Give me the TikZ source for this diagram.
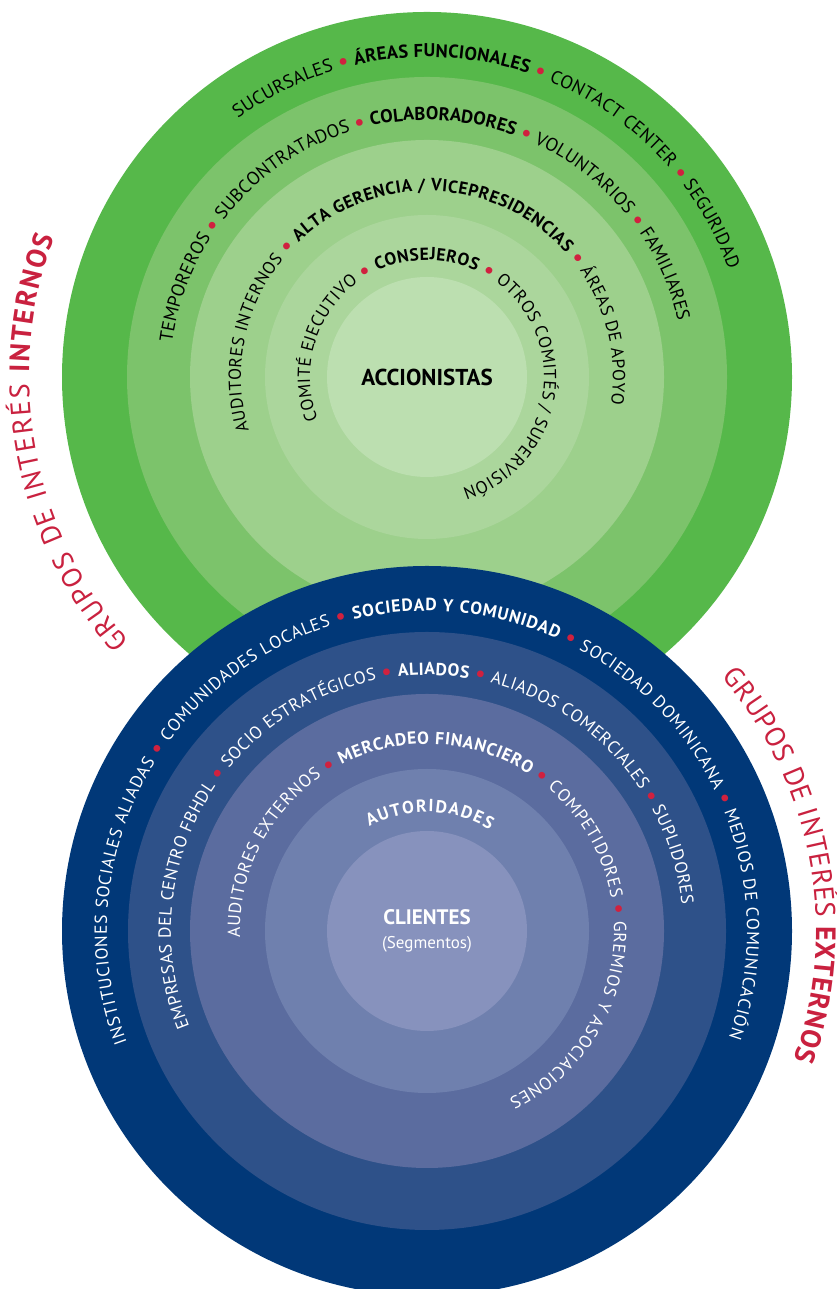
\documentclass[tikz,border=0pt]{standalone}
\usepackage{fontspec}
\setmainfont{PT Sans}
\usepackage{xcolor}
\usetikzlibrary{decorations.text}

\definecolor{verdeA}{HTML}{56B84A}
\definecolor{verdeB}{HTML}{7CC36B}
\definecolor{verdeC}{HTML}{9DD08C}
\definecolor{verdeD}{HTML}{ABD69C}
\definecolor{verdeE}{HTML}{BCDFB0}
\definecolor{azulA}{HTML}{013878}
\definecolor{azulB}{HTML}{2E5189}
\definecolor{azulC}{HTML}{5B6C9F}
\definecolor{azulD}{HTML}{6F80AE}
\definecolor{azulE}{HTML}{8792BD}
\definecolor{rojoPunto}{HTML}{D0213F}
\definecolor{rojoTitulo}{HTML}{C9213F}
\newcommand{\punto}{\textcolor{rojoPunto}{\raisebox{-1.6pt}{\fontsize{24}{24}\selectfont•}}}

\begin{document}
\begin{tikzpicture}[x=1pt, y=1pt,
    curvtxt/.style={decorate, decoration={text along path, text align=fit to path, text color=#1}}]
	\useasboundingbox (0,0) rectangle (837,1289);
	\clip (0,0) rectangle (837,1289);
	\fontsize{18.5}{22}\selectfont
	\coordinate (G) at (427,912);
	\coordinate (B) at (427,358);
	% grupos internos
	\fill[verdeA] (G) circle[radius=365];
	\fill[verdeB] (G) circle[radius=300];
	\fill[verdeC] (G) circle[radius=237];
	\fill[verdeD] (G) circle[radius=162];
	\fill[verdeE] (G) circle[radius=100];
	% grupos externos
	\fill[azulA] (B) circle[radius=365];
	\fill[azulB] (B) circle[radius=299];
	\fill[azulC] (B) circle[radius=237];
	\fill[azulD] (B) circle[radius=162];
	\fill[azulE] (B) circle[radius=100];

	\path[curvtxt=black, decoration={text={SUCURSALES {\punto} |\bfseries|ÁREAS FUNCIONALES|\mdseries| {\punto} CONTACT CENTER {\punto} SEGURIDAD}}]
		(G) ++(126.2:320) arc[start angle=126.2, end angle=19.6, radius=320];
	\path[curvtxt=black, decoration={text={TEMPOREROS {\punto} SUBCONTRATADOS {\punto} |\bfseries|COLABORADORES|\mdseries| {\punto} VOLUNTARIOS {\punto} FAMILIARES}}]
		(G) ++(172.4:257) arc[start angle=172.4, end angle=12.5, radius=257];
	\fontsize{17.5}{21}\selectfont
	\path[curvtxt=black, decoration={text={AUDITORES INTERNOS {\punto} |\bfseries|ALTA GERENCIA / VICEPRESIDENCIAS|\mdseries| {\punto} ÁREAS DE APOYO}}]
		(G) ++(196.7:186) arc[start angle=196.7, end angle=-8.5, radius=186];
	\path[curvtxt=black, decoration={text={COMITÉ EJECUTIVO {\punto} |\bfseries|CONSEJEROS|\mdseries| {\punto} OTROS COMITÉS / SUPERVISIÓN}}]
		(G) ++(201.3:117) arc[start angle=201.3, end angle=-72.5, radius=117];
	\node[font=\fontsize{23}{26}\selectfont\bfseries] (accionistas) at (427,912) {ACCIONISTAS};

	\path[curvtxt=white, decoration={text={INSTITUCIONES SOCIALES ALIADAS {\punto} COMUNIDADES LOCALES {\punto} |\bfseries|SOCIEDAD Y COMUNIDAD|\mdseries| {\punto} SOCIEDAD DOMINICANA {\punto} MEDIOS DE COMUNICACIÓN}}]
		(B) ++(200.3:320) arc[start angle=200.3, end angle=-19.4, radius=320];
	\path[curvtxt=white, decoration={text={EMPRESAS DEL CENTRO FBHDL {\punto} SOCIO ESTRATÉGICOS {\punto} |\bfseries|ALIADOS|\mdseries| {\punto} ALIADOS COMERCIALES {\punto} SUPLIDORES}}]
		(B) ++(201.9:256) arc[start angle=201.9, end angle=5.9, radius=256];
	\path[curvtxt=white, decoration={text={AUDITORES EXTERNOS {\punto} |\bfseries|MERCADEO FINANCIERO|\mdseries| {\punto} COMPETIDORES {\punto} GREMIOS Y ASOCIACIONES}}]
		(B) ++(182:187) arc[start angle=182, end angle=-64, radius=187];
	\path[curvtxt=white, decoration={text={|\bfseries|AUTORIDADES}}]
		(B) ++(119:119) arc[start angle=119, end angle=58.2, radius=119];
	\node[white, font=\fontsize{21}{25}\selectfont\bfseries] (clientes) at (427,372) {CLIENTES};
	\node[white, font=\fontsize{17}{20}\selectfont] (segmentos) at (427,345) {(Segmentos)};

	% titulos laterales
	\path[curvtxt=rojoTitulo, decoration={text={|\fontsize{28}{32}\selectfont|GRUPOS DE INTERÉS |\fontsize{28}{32}\selectfont\bfseries|INTERNOS}}]
		(G) ++(221.7:398) arc[start angle=221.7, end angle=159.5, radius=398];
	\path[curvtxt=rojoTitulo, decoration={text={|\fontsize{28}{32}\selectfont|GRUPOS DE INTERÉS |\fontsize{28}{32}\selectfont\bfseries|EXTERNOS}}]
		(B) ++(40.8:389) arc[start angle=40.8, end angle=-19.3, radius=389];
\end{tikzpicture}
\end{document}
